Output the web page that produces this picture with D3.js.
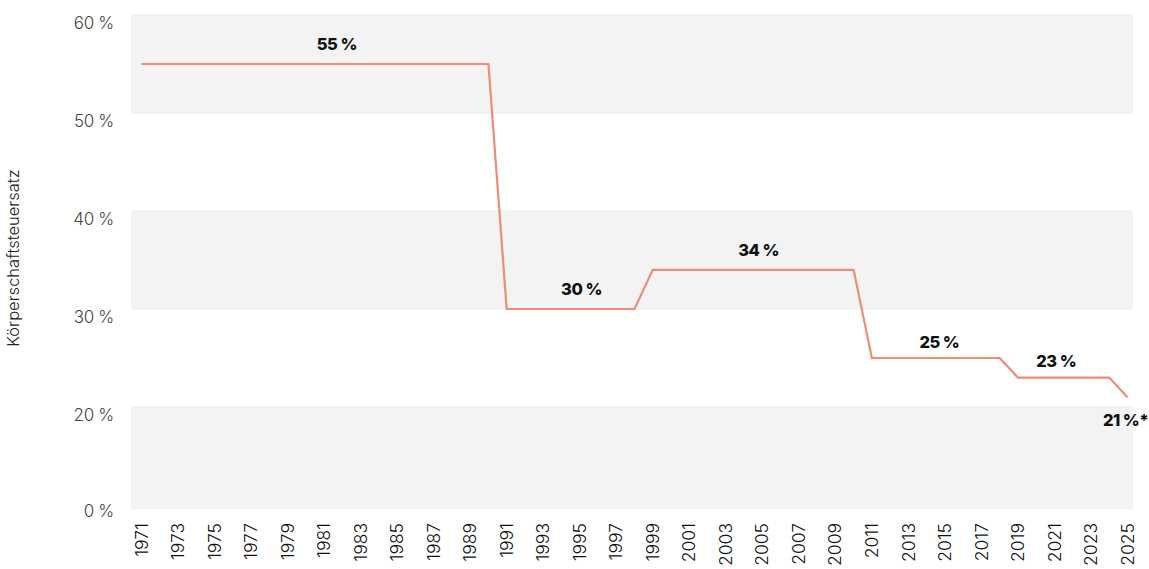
<!DOCTYPE html>
<html lang="de">
<head>
<meta charset="utf-8">
<script src="https://cdn.jsdelivr.net/npm/d3@7"></script>
<style>
  html, body { margin: 0; padding: 0; background: #fff; }
  svg { display: block; font-family: "Inter", "Open Sans", sans-serif; }
</style>
</head>
<body>
<svg id="chart" width="1149" height="569"></svg>
<script>
// Körperschaftsteuersatz per year
const years = d3.range(1971, 2026);
const rates = [
  55, 55, 55, 55, 55, 55, 55, 55, 55, 55,   // 1971–1980
  55, 55, 55, 55, 55, 55, 55, 55, 55, 55,   // 1981–1990
  30, 30, 30, 30, 30, 30, 30, 30,           // 1991–1998
  34, 34, 34, 34, 34, 34, 34, 34, 34, 34, 34, 34, // 1999–2010
  25, 25, 25, 25, 25, 25, 25, 25,           // 2011–2018
  23, 23, 23, 23, 23, 23,                   // 2019–2024
  21                                        // 2025
];

// Value annotations on the line
const labelYears  = [1981.7, 1995.1, 2004.8, 2014.7, 2021.1, 2024.9];
const labelValues = [55, 30, 34, 25, 23, 21];
const labelTexts  = ["55 %", "30 %", "34 %", "25 %", "23 %", "21 %*"];

// Y axis: ticks and shaded bands (axis is compressed below 20 %)
const yTicks = [0, 20, 30, 40, 50, 60];
const yBands = [[50, 60], [30, 40], [0, 20]];
const xTickYears = d3.range(1971, 2026, 2);
const yTitle = "Körperschaftsteuersatz";

const svg = d3.select("#chart");
const plot = { left: 131, right: 1133 };

const x = d3.scaleLinear().domain([1971, 2025]).range([141.5, 1127.5]);
const y = d3.scaleLinear().domain([0, 20, 60]).range([508, 407, 15]);

// shaded bands
svg.append("g")
  .selectAll("rect")
  .data(yBands)
  .join("rect")
  .attr("x", plot.left)
  .attr("width", plot.right - plot.left)
  .attr("y", d => y(d[1]) - 1)
  .attr("height", d => y(d[0]) - y(d[1]) + 2)
  .attr("fill", "#f3f3f3");

// y tick labels
svg.append("g")
  .selectAll("text")
  .data(yTicks)
  .join("text")
  .attr("x", 114)
  .attr("y", d => Math.min(y(d) + 8, y(0) + 3))
  .attr("dy", "0.35em")
  .attr("text-anchor", "end")
  .attr("font-size", 17)
  .attr("font-weight", 300)
  .attr("letter-spacing", "-0.3")
  .attr("fill", "#444")
  .text(d => d + " %");

// y axis title
svg.append("text")
  .attr("transform", `translate(19, ${y(40) + 47}) rotate(-90)`)
  .attr("text-anchor", "middle")
  .attr("font-size", 16.5)
  .attr("font-weight", 300)
  .attr("fill", "#222")
  .text(yTitle);

// x tick labels (rotated)
svg.append("g")
  .selectAll("text")
  .data(xTickYears)
  .join("text")
  .attr("transform", d => `translate(${x(d)}, 523) rotate(-90)`)
  .attr("dy", "0.35em")
  .attr("text-anchor", "end")
  .attr("font-size", 17.5)
  .attr("font-weight", 300)
  .attr("fill", "#111")
  .text(d => d);

// rate line
const line = d3.line()
  .x((d, i) => x(years[i]))
  .y(d => y(d));

svg.append("path")
  .datum(rates)
  .attr("d", line)
  .attr("fill", "none")
  .attr("stroke", "#ef8c76")
  .attr("stroke-width", 2.2)
  .attr("stroke-linejoin", "miter");

// value labels
svg.append("g")
  .selectAll("text")
  .data(labelTexts)
  .join("text")
  .attr("x", (d, i) => x(labelYears[i]))
  .attr("y", (d, i) => y(labelValues[i]) + (i === labelTexts.length - 1 ? 23 : (labelValues[i] < 30 ? -16 : -20)))
  .attr("dy", "0.35em")
  .attr("text-anchor", "middle")
  .attr("font-size", 16.5)
  .attr("font-weight", 800)
  .attr("letter-spacing", "-0.5")
  .attr("fill", "#111")
  .text(d => d);
</script>
</body>
</html>
